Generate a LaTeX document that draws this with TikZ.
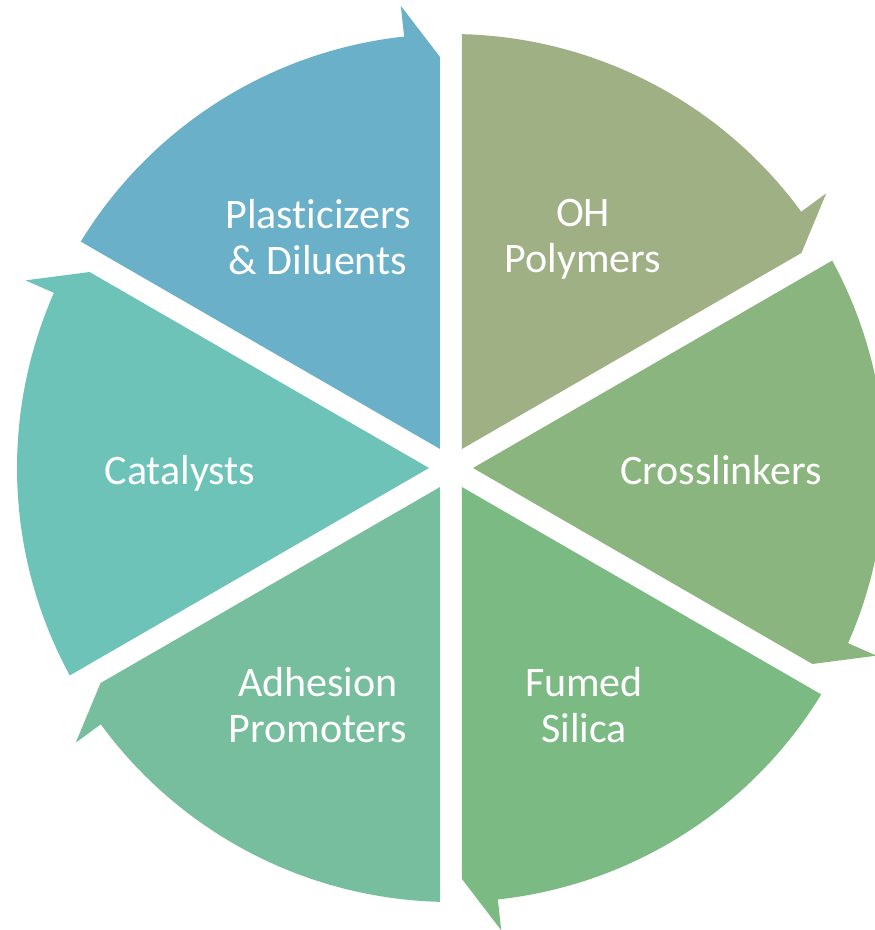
\documentclass[tikz,border=0pt]{standalone}
\usepackage{fontspec}
\setmainfont{Carlito}[Ligatures=NoCommon]
\definecolor{cBlue}{RGB}{106,176,200}
\definecolor{cOlive}{RGB}{158,176,132}
\definecolor{cGreenA}{RGB}{138,181,126}
\definecolor{cGreenB}{RGB}{124,186,132}
\definecolor{cGreenC}{RGB}{118,190,158}
\definecolor{cTeal}{RGB}{110,195,185}
\tikzset{
  lbl/.style={text=white, font=\fontsize{42}{46}\selectfont, align=center, inner sep=0pt},
}
\newcommand{\segshape}[2]{%
  \fill[#2, rotate=#1] (-11,19.05) -- (148.55:434)
    arc[start angle=148.55, end angle=96.2, radius=434]
    -- (96.2:465) -- (-11,411) -- cycle;}
\begin{document}
\begin{tikzpicture}[x=1pt,y=1pt]
\useasboundingbox (-451,-462) rectangle (424,468);
\clip (-451,-462) rectangle (424,468);
\segshape{0}{cBlue}
\segshape{-60}{cOlive}
\segshape{-120}{cGreenA}
\segshape{-180}{cGreenB}
\segshape{-240}{cGreenC}
\segshape{-300}{cTeal}
\node[lbl] (plast) at (-133,231) {Plasticizers\\\& Diluents};
\node[lbl] (oh) at (132,229) {OH\\Polymers};
\node[lbl] (cross) at (270,-2) {Crosslinkers};
\node[lbl] (fumed) at (133,-237) {Fumed\\Silica};
\node[lbl] (adh) at (-133,-237) {Adhesion\\Promoters};
\node[lbl] (cat) at (-271,-5) {Catalysts};
\end{tikzpicture}
\end{document}
